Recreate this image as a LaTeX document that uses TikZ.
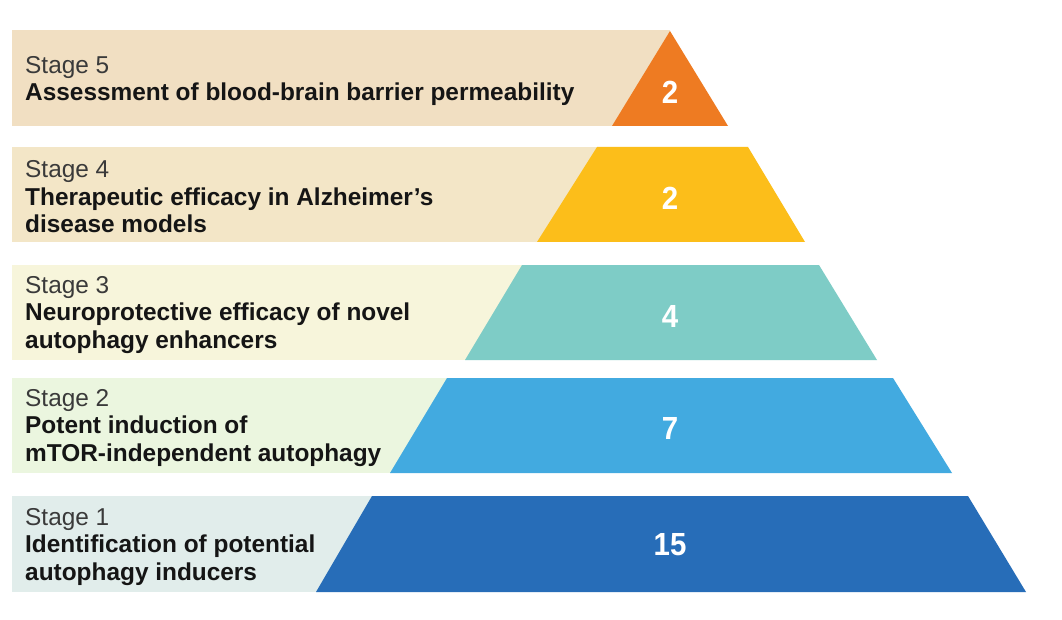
\documentclass[tikz,border=0pt]{standalone}
\usepackage{fontspec}
\setmainfont{Liberation Sans}
\definecolor{bandfive}{HTML}{F1DFC2}
\definecolor{bandfour}{HTML}{F3E6C7}
\definecolor{bandthree}{HTML}{F7F5DB}
\definecolor{bandtwo}{HTML}{EBF6DF}
\definecolor{bandone}{HTML}{E1EDEB}
\definecolor{tierfive}{HTML}{EE7B22}
\definecolor{tierfour}{HTML}{FCBE1A}
\definecolor{tierthree}{HTML}{7ECCC6}
\definecolor{tiertwo}{HTML}{42AAE0}
\definecolor{tierone}{HTML}{276DB8}
\definecolor{stagegray}{HTML}{3A3A3A}
\definecolor{titleblack}{HTML}{151515}
\tikzset{
  stagetext/.style={anchor=west, align=left, inner sep=0pt,
    font=\fontsize{24.4}{27.5}\selectfont, text=titleblack},
  numtext/.style={font=\fontsize{32}{34}\selectfont\bfseries, text=white, inner sep=0pt, xscale=0.92}
}
\newcommand{\stg}[1]{{\color{stagegray}Stage #1}}
\begin{document}
\begin{tikzpicture}[x=1pt,y=-1pt]
\useasboundingbox (0,0) rectangle (1062,620);
\fill[white] (0,0) rectangle (1062,620);
% bands
\fill[bandfive]  (12,30)  rectangle (670,126);
\fill[bandfour]  (12,147) rectangle (670,242);
\fill[bandthree] (12,265) rectangle (670,360);
\fill[bandtwo]   (12,378) rectangle (670,473);
\fill[bandone]   (12,496) rectangle (670,592);
% pyramid tiers
\fill[tierfive]  (612,126) -- (670,31) -- (728,126) -- cycle;
\fill[tierfour]  (537,242) -- (597,147) -- (748,147) -- (805,242) -- cycle;
\fill[tierthree] (465,360) -- (522,265) -- (819,265) -- (877,360) -- cycle;
\fill[tiertwo]   (390,473) -- (447,378) -- (893,378) -- (952,473) -- cycle;
\fill[tierone]   (316,592) -- (372,496) -- (968,496) -- (1026,592) -- cycle;
% numbers
\node[numtext] (n5) at (670,92) {2};
\node[numtext] (n4) at (670,198) {2};
\node[numtext] (n3) at (670,316) {4};
\node[numtext] (n2) at (670,428) {7};
\node[numtext] (n1) at (670,545) {15};
% texts
\node[stagetext] (t5) at (25,81) {\stg{5}\\\textbf{Assessment of blood-brain barrier permeability}};
\node[stagetext] (t4) at (25,197) {\stg{4}\\\textbf{Therapeutic efficacy in Alzheimer’s}\\\textbf{disease models}};
\node[stagetext] (t3) at (25,315) {\stg{3}\\\textbf{Neuroprotective efficacy of novel}\\\textbf{autophagy enhancers}};
\node[stagetext] (t2) at (25,428) {\stg{2}\\\textbf{Potent induction of}\\\textbf{mTOR-independent autophagy}};
\node[stagetext] (t1) at (25,547) {\stg{1}\\\textbf{Identification of potential}\\\textbf{autophagy inducers}};
\end{tikzpicture}
\end{document}
